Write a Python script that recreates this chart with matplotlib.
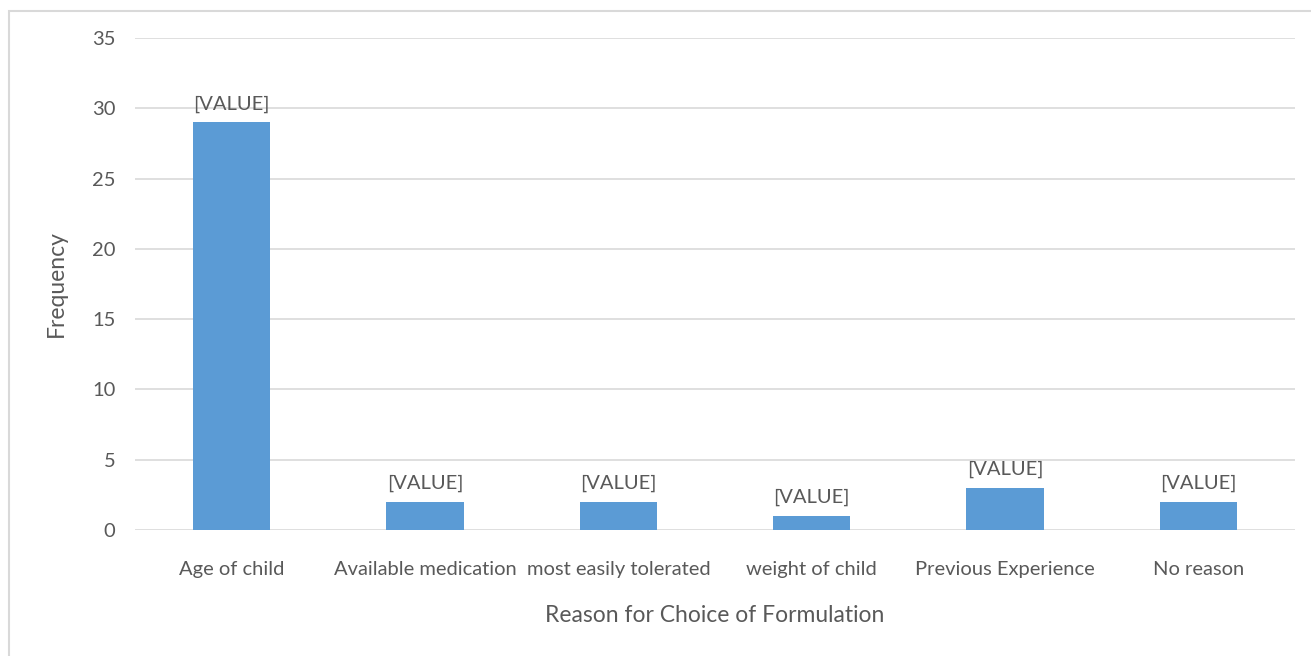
import matplotlib
matplotlib.use("Agg")
import matplotlib.pyplot as plt
from matplotlib.patches import Rectangle

categories = ["Age of child", "Available medication", "most easily tolerated",
              "weight of child", "Previous Experience", "No reason"]
values = [29, 2, 2, 1, 3, 2]
labels = ["[VALUE]"] * 6
yticks = [0, 5, 10, 15, 20, 25, 30, 35]

plt.rcParams['font.family'] = ['Lato', 'DejaVu Sans']
text_color = "#595959"
grid_color = "#d9d9d9"
bar_color = "#5b9bd5"

W, H = 1311, 656
fig = plt.figure(figsize=(W/100, H/100), dpi=100)
fig.patches.append(Rectangle((9/W, -0.05), 1.1, 1 - 11/H + 0.05, transform=fig.transFigure,
                             fill=False, edgecolor=grid_color, linewidth=1.5))
ax = fig.add_axes([135/W, 1 - 530/H, (1295-135)/W, (530-38)/H])
x = list(range(len(categories)))
ax.bar(x, values, width=0.4, color=bar_color, zorder=3)
ax.set_xlim(-0.5, len(categories) - 0.5)
ax.set_ylim(0, 35)
ax.set_yticks(yticks)
ax.yaxis.grid(True, color=grid_color, linewidth=1.2, zorder=0)
for s in ax.spines.values():
    s.set_visible(False)
ax.tick_params(axis='both', length=0, colors=text_color, labelsize=14.5)
ax.tick_params(axis='y', pad=14)
ax.tick_params(axis='x', pad=22)
ax.set_xticks(x)
ax.set_xticklabels(categories)
for xi, v, lab in zip(x, values, labels):
    ax.annotate(lab, (xi, v), xytext=(0, 7), textcoords='offset points',
                ha='center', va='bottom', fontsize=14.5, color=text_color)
ax.set_xlabel("Reason for Choice of Formulation", fontsize=16.5, color=text_color, labelpad=20)
ax.set_ylabel("Frequency", fontsize=16.5, color=text_color, labelpad=18)
fig.savefig("out.png", dpi=100)
